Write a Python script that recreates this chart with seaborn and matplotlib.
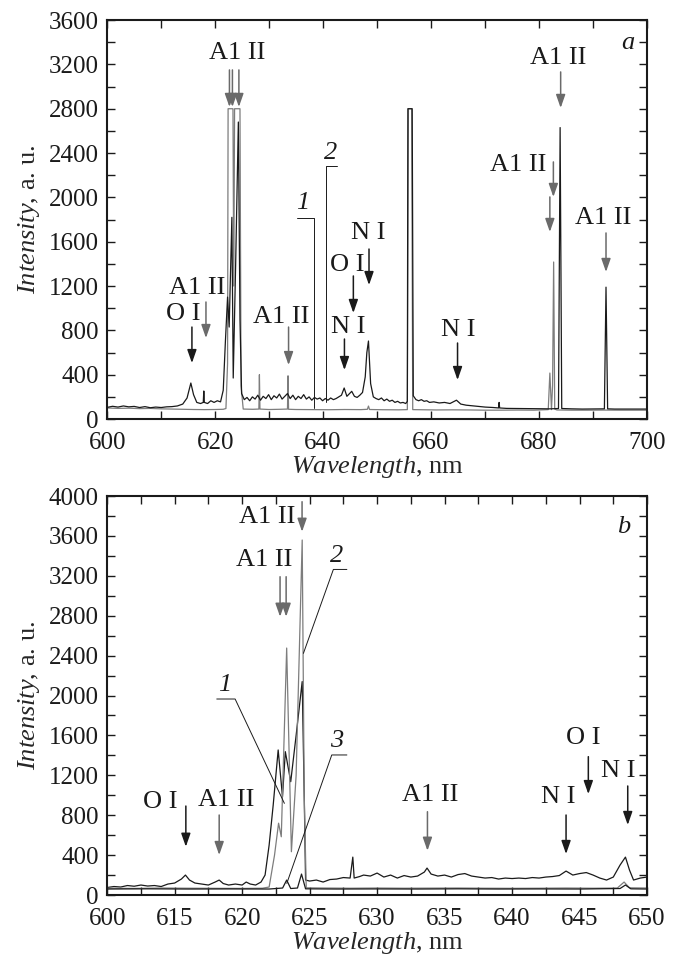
import matplotlib
matplotlib.use("Agg")
import matplotlib.pyplot as plt
from matplotlib.ticker import MultipleLocator
import seaborn as sns

# ---- panel a: spectra 1 (grey, lower) and 2 (black, upper), 600-700 nm ----
wl_a1 = [600, 602, 604, 606, 608, 610, 612, 614, 616, 618, 620, 621.5, 622.0, 622.3,
         622.4, 623.3, 623.45, 623.6, 624.6, 624.8, 625.2, 627, 628.1, 628.2, 628.3,
         630, 632, 633.4, 633.5, 633.6, 635, 638, 641, 644, 647, 648.2, 648.4, 648.6,
         651, 654, 655.6, 655.8, 656.4, 656.6, 658, 661, 664, 667, 670, 673, 676, 679,
         681.7, 682.0, 682.3, 682.5, 682.7, 682.9, 683.3, 686, 689, 692, 695, 698, 700]
int_a1 = [100, 96, 98, 94, 96, 92, 90, 88, 86, 85, 86, 88, 95, 500,
          2800, 2800, 1200, 2800, 2800, 300, 90, 88, 90, 400, 90,
          86, 88, 90, 390, 88, 86, 85, 84, 86, 85, 88, 117, 86,
          84, 83, 85, 2800, 2800, 85, 84, 82, 83, 82, 80, 80, 81, 80,
          85, 415, 85, 300, 1417, 90, 82, 80, 80, 81, 80, 80, 80]

wl_a2 = [600, 601, 602, 603, 604, 605, 606, 607, 608, 609, 610, 611, 612, 613, 614,
         614.8, 615.5, 616.0, 616.6, 617.3, 617.8, 617.9, 618.0, 618.6, 619.2, 619.8,
         620.4, 621.0, 621.5, 621.9, 622.3, 622.6, 623.1, 623.35, 623.8, 624.3, 624.6,
         624.9, 625.4, 625.9, 626.4, 626.9, 627.4, 627.9, 628.4, 628.9, 629.4, 629.9,
         630.4, 630.9, 631.4, 631.9, 632.4, 632.9, 633.4, 633.9, 634.4, 634.9, 635.4,
         635.9, 636.4, 636.9, 637.4, 637.9, 638.4, 638.9, 639.4, 639.9, 640.4, 640.9,
         641.4, 641.9, 642.4, 642.9, 643.4, 643.9, 644.4, 644.9, 645.3, 645.8, 646.3,
         646.8, 647.3, 647.8, 648.1, 648.4, 648.8, 649.3, 649.8, 650.3, 650.8, 651.3,
         651.8, 652.3, 652.8, 653.3, 653.8, 654.3, 654.8, 655.3, 655.6, 655.7, 656.5,
         656.7, 657.2, 657.7, 658.2, 658.7, 659.2, 659.7, 660.5, 661.5, 662.5, 663.5,
         664.7, 665.5, 666.5, 667.5, 668.5, 670, 671.5, 672.5, 672.6, 672.7, 674, 676,
         678, 680, 682, 683.6, 683.9, 684.2, 686, 688, 690, 692.1, 692.4, 692.7, 694,
         696, 698, 700]
int_a2 = [105, 115, 108, 118, 110, 114, 104, 112, 102, 108, 104, 110, 112, 118, 135,
          190, 325, 220, 150, 140, 150, 253, 150, 140, 165, 150,
          165, 155, 260, 700, 1100, 830, 1820, 370, 1400, 2680, 900,
          230, 175, 195, 165, 200, 180, 215, 170, 205, 185, 220,
          175, 210, 190, 225, 180, 205, 230, 185, 215, 175, 205,
          185, 220, 180, 200, 170, 195, 180, 190, 165, 185, 170,
          190, 175, 185, 200, 215, 280, 205, 230, 250, 205, 195,
          215, 240, 380, 600, 704, 320, 200, 185, 175, 190, 165,
          180, 160, 170, 150, 160, 145, 150, 140, 160, 2800, 2800,
          210, 175, 165, 175, 160, 165, 150, 155, 145, 150, 140,
          170, 135, 125, 120, 115, 108, 104, 100, 150, 100, 96, 95,
          93, 92, 92, 95, 2630, 95, 92, 90, 91, 92, 1190, 92, 90,
          90, 91, 90]

# ---- panel b: spectra 1 (black), 2 (grey), 3 (black, lowest) ----
wl_b1 = [610, 610.5, 611, 611.5, 612, 612.5, 613, 613.5, 614, 614.5,
         615, 615.5, 615.8, 616.1, 616.5, 617, 617.5, 618, 618.3, 618.6,
         619, 619.5, 620, 620.3, 620.6, 621, 621.4, 621.7, 622.0, 622.3,
         622.67, 622.99, 623.2, 623.6, 624.0, 624.45, 624.6, 624.7, 625, 625.5,
         626, 626.5, 627, 627.5, 628, 628.2, 628.3, 628.7, 629, 629.5,
         630, 630.5, 631, 631.5, 632, 632.5, 633, 633.5, 633.7, 634,
         634.5, 635, 635.5, 636, 636.5, 637, 637.5, 638, 638.5, 639,
         639.5, 640, 640.5, 641, 641.5, 642, 642.5, 643, 643.5, 644,
         644.5, 645, 645.5, 646, 646.5, 647, 647.5, 648, 648.4, 648.7,
         649, 649.5, 650]
int_b1 = [75, 85, 80, 95, 88, 100, 90, 95, 85, 110,
          120, 160, 200, 150, 120, 110, 100, 130, 150, 115,
          100, 110, 100, 130, 110, 100, 130, 200, 500, 900,
          1454, 985, 1437, 1136, 1600, 2140, 1000, 150, 140, 150,
          130, 155, 160, 175, 170, 380, 170, 185, 200, 190,
          220, 180, 200, 170, 195, 180, 190, 230, 270, 210,
          190, 200, 180, 205, 215, 190, 180, 170, 175, 160,
          170, 165, 170, 165, 175, 170, 180, 185, 195, 240,
          200, 215, 225, 200, 170, 150, 180, 300, 380, 250,
          150, 170, 180]

wl_b2 = [610, 612, 614, 616, 618, 620, 621.5, 622.0, 622.4, 622.7,
         622.9, 623.3, 623.65, 624.0, 624.45, 624.6, 624.75, 626, 628, 630,
         632, 634, 636, 638, 640, 642, 644, 646, 647.8, 648.3,
         648.7, 650]
int_b2 = [68, 66, 70, 68, 67, 66, 68, 80, 400, 720,
          584, 2476, 434, 1200, 3559, 1000, 72, 70, 68, 70,
          68, 69, 70, 68, 67, 68, 70, 68, 70, 130,
          72, 70]

wl_b3 = [610, 613, 616, 619, 622, 623.0, 623.3, 623.6, 624.1, 624.4, 624.7,
         627, 630, 633, 636, 639, 642, 645, 648, 648.4, 648.8, 650]
int_b3 = [60, 62, 60, 61, 60, 70, 150, 65, 70, 210, 62,
          60, 61, 60, 62, 60, 61, 60, 65, 100, 62, 60]

# tick labels of panel b as printed in the figure
b_tick_pos = [610, 615, 620, 625, 630, 635, 640, 645, 650]
b_tick_lab = ["600", "615", "620", "625", "630", "635", "640", "645", "650"]

sns.set_style("ticks")
plt.rcParams["font.family"] = ["Liberation Serif", "DejaVu Serif"]
plt.rcParams["mathtext.fontset"] = "custom"
plt.rcParams["mathtext.rm"] = "Liberation Serif"
plt.rcParams["mathtext.it"] = "Liberation Serif:italic"

GREY = "#7d7d7d"
ARROW_GREY = "#6a6a6a"
INK = "#1a1a1a"

fig = plt.figure(figsize=(6.74, 9.6), dpi=100)
ax_a = fig.add_axes([0.159, 0.5635, 0.801, 0.4156])
ax_b = fig.add_axes([0.159, 0.0677, 0.801, 0.4156])


def trace(ax, x, y, color, lw=0.9):
    sns.lineplot(x=x, y=y, ax=ax, color=color, lw=lw,
                 estimator=None, sort=False, legend=False)


def arrow(ax, x, y_tail, y_head, color):
    ax.annotate("", xy=(x, y_head), xytext=(x, y_tail),
                arrowprops=dict(arrowstyle="-|>,head_length=0.8,head_width=0.28",
                                color=color, lw=1.1, shrinkA=0, shrinkB=0))


def label(ax, x, y, s, italic=False):
    ax.text(x, y, s, ha="center", va="center", fontsize=19, color=INK,
            fontstyle="italic" if italic else "normal")


def style(ax):
    for sp in ax.spines.values():
        sp.set_linewidth(1.5)
        sp.set_color(INK)
    ax.tick_params(which="both", direction="in", top=True, right=True,
                   length=6, width=1.0, labelsize=18, pad=6, colors=INK)
    ax.tick_params(axis="x", which="both", pad=9)
    ax.set_ylabel(r"$\mathit{Intensity}$, a. u.", fontsize=19, labelpad=5)
    ax.set_xlabel(r"$\mathit{Wavelength}$, nm", fontsize=19, labelpad=0)


# ---- panel a ----
trace(ax_a, wl_a1, int_a1, GREY)
trace(ax_a, wl_a2, int_a2, INK)
ax_a.set_xlim(600, 700)
ax_a.set_ylim(0, 3600)
ax_a.xaxis.set_major_locator(MultipleLocator(20))
ax_a.xaxis.set_minor_locator(MultipleLocator(10))
ax_a.yaxis.set_major_locator(MultipleLocator(400))
ax_a.yaxis.set_minor_locator(MultipleLocator(200))
style(ax_a)

label(ax_a, 624.0, 3300, "A1 II")
for x in (622.65, 623.2, 624.4):
    arrow(ax_a, x, 3150, 2816, ARROW_GREY)
label(ax_a, 683.6, 3258, "A1 II")
arrow(ax_a, 684.0, 3132, 2807, ARROW_GREY)
label(ax_a, 676.1, 2292, "A1 II")
arrow(ax_a, 682.65, 2320, 2004, ARROW_GREY)
arrow(ax_a, 682.0, 2004, 1688, ARROW_GREY)
label(ax_a, 691.8, 1814, "A1 II")
arrow(ax_a, 692.4, 1679, 1327, ARROW_GREY)
label(ax_a, 616.6, 1182, "A1 II")
arrow(ax_a, 618.3, 1056, 731, ARROW_GREY)
label(ax_a, 614.1, 948, "O I")
arrow(ax_a, 615.7, 830, 505, INK)
label(ax_a, 632.2, 921, "A1 II")
arrow(ax_a, 633.6, 830, 487, ARROW_GREY)
label(ax_a, 648.4, 1676, "N I")
arrow(ax_a, 648.5, 1534, 1209, INK)
label(ax_a, 644.4, 1390, "O I")
arrow(ax_a, 645.6, 1291, 957, INK)
label(ax_a, 644.6, 833, "N I")
arrow(ax_a, 643.95, 722, 442, INK)
label(ax_a, 665.1, 803, "N I")
arrow(ax_a, 664.9, 686, 352, INK)

label(ax_a, 636.3, 1949, "1", italic=True)
ax_a.plot([635.2, 638.4, 638.4], [1817, 1817, 99], color=INK, lw=0.7)
label(ax_a, 641.4, 2400, "2", italic=True)
ax_a.plot([642.65, 640.56, 640.56], [2286, 2286, 156], color=INK, lw=0.7)
label(ax_a, 696.5, 3390, "a", italic=True)

# ---- panel b ----
trace(ax_b, wl_b1, int_b1, INK)
trace(ax_b, wl_b2, int_b2, GREY)
trace(ax_b, wl_b3, int_b3, INK)
ax_b.set_xlim(610, 650)
ax_b.set_ylim(0, 4000)
ax_b.set_xticks(b_tick_pos, b_tick_lab)
ax_b.xaxis.set_minor_locator(MultipleLocator(2.5))
ax_b.yaxis.set_major_locator(MultipleLocator(400))
ax_b.yaxis.set_minor_locator(MultipleLocator(200))
style(ax_b)

label(ax_b, 621.85, 3793, "A1 II")
arrow(ax_b, 624.44, 3943, 3642, ARROW_GREY)
label(ax_b, 621.63, 3358, "A1 II")
for x in (622.81, 623.26):
    arrow(ax_b, x, 3191, 2790, ARROW_GREY)
label(ax_b, 613.9, 935, "O I")
arrow(ax_b, 615.83, 892, 484, INK)
label(ax_b, 618.8, 952, "A1 II")
arrow(ax_b, 618.3, 802, 401, ARROW_GREY)
label(ax_b, 633.93, 1003, "A1 II")
arrow(ax_b, 633.73, 835, 444, ARROW_GREY)
label(ax_b, 643.4, 979, "N I")
arrow(ax_b, 644.0, 802, 411, INK)
label(ax_b, 645.3, 1571, "O I")
arrow(ax_b, 645.65, 1387, 1012, INK)
label(ax_b, 647.9, 1246, "N I")
arrow(ax_b, 648.57, 1093, 702, INK)

label(ax_b, 627.0, 3400, "2", italic=True)
ax_b.plot([627.76, 626.76, 624.54], [3264, 3264, 2423], color=INK, lw=0.7)
label(ax_b, 618.7, 2110, "1", italic=True)
ax_b.plot([618.12, 619.48, 623.13], [1965, 1965, 919], color=INK, lw=0.7)
label(ax_b, 627.0, 1540, "3", italic=True)
ax_b.plot([627.76, 626.64, 623.31], [1404, 1404, 117], color=INK, lw=0.7)
label(ax_b, 648.25, 3692, "b", italic=True)

fig.savefig("out.png", dpi=100)
